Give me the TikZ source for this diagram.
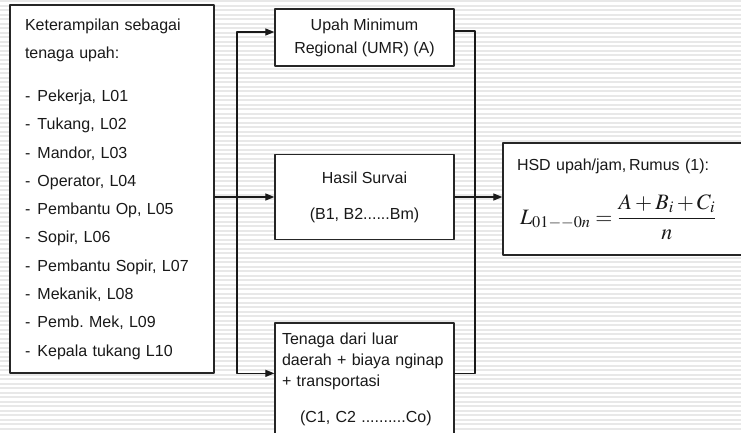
\documentclass[tikz,border=0pt]{standalone}
\usepackage{mathptmx}
\usepackage[no-math]{fontspec}
\setmainfont{Liberation Sans}
\usetikzlibrary{calc,positioning,arrows.meta}
\frenchspacing

\tikzset{
  kotak/.style={draw=black!85,line width=1.3pt,fill=white,inner sep=0pt,text=black!90},
  garis/.style={line width=1.2pt,black!90},
  panah/.style={garis,-{Triangle[length=9pt,width=7pt]}}
}
\newcommand{\butir}[1]{\makebox[12.5pt][l]{-}#1}

\begin{document}
\begin{tikzpicture}[line cap=round,line join=round,x=1pt,y=-1pt,font=\fontsize{16}{19}\selectfont]
\useasboundingbox (0,0) rectangle (741,432);
\clip (0,0) rectangle (741,432);
% latar bergaris
\foreach \y in {1,5.5,...,432}
  \draw[black!9,line width=2pt] (0,\y) -- (741,\y);

% kotak kiri
\node[kotak,minimum width=204pt,minimum height=368pt,text width=174pt,align=left,
  font=\fontsize{16}{28.3}\selectfont] (tenaga) at (112,189)
  {Keterampilan sebagai\\ tenaga upah:\\[14.7pt]
   \butir{Pekerja, L01}\\ \butir{Tukang, L02}\\ \butir{Mandor, L03}\\
   \butir{Operator, L04}\\ \butir{Pembantu Op, L05}\\ \butir{Sopir, L06}\\
   \butir{Pembantu Sopir, L07}\\ \butir{Mekanik, L08}\\ \butir{Pemb. Mek, L09}\\
   \butir{Kepala tukang L10}};

% kotak tengah
\node[kotak,minimum width=179pt,minimum height=57pt,align=center,
  font=\fontsize{16}{23}\selectfont] (umr) at (364.5,37.5)
  {Upah Minimum\\ Regional (UMR) (A)};
\node[kotak,minimum width=179pt,minimum height=85pt,align=center,
  font=\fontsize{16}{36}\selectfont] (survai) at (364.5,197)
  {Hasil Survai\\ (B1, B2......Bm)};
\node[kotak,minimum width=179pt,minimum height=113pt,text width=165pt,align=left,
  font=\fontsize{16}{21}\selectfont] (luar) at (364.5,379.5)
  {Tenaga dari luar\\ daerah + biaya nginap\\ + transportasi\\[15pt]
   \hspace*{18pt}(C1, C2 ..........Co)};

% kotak hasil
\node[kotak,minimum width=250pt,minimum height=112pt,text width=222pt,align=left] (hsd) at (628,199)
  {HSD upah/jam,\,Rumus (1):\\[20pt]
   \hspace*{3pt}\fontsize{22}{26}\selectfont$\displaystyle L_{01--0n}=\frac{A+B_i+C_i}{n}$};

% penghubung
\coordinate (cabang) at (237,197);
\coordinate (gabung) at (475,197);
\draw[garis] (tenaga.east |- cabang) -- (cabang);
\draw[panah] (cabang) -- (survai.west);
\draw[panah] (cabang) |- ([yshift=5.5pt]umr.west);
\draw[panah] (cabang) |- ([yshift=-51pt]luar.north west);
\draw[garis] ([yshift=6.5pt]umr.east) -| (gabung);
\draw[garis] ([yshift=-51pt]luar.north east) -| (gabung);
\draw[garis] (survai.east) -- (gabung);
\draw[panah] (gabung) -- (hsd.west |- gabung);
\end{tikzpicture}
\end{document}
